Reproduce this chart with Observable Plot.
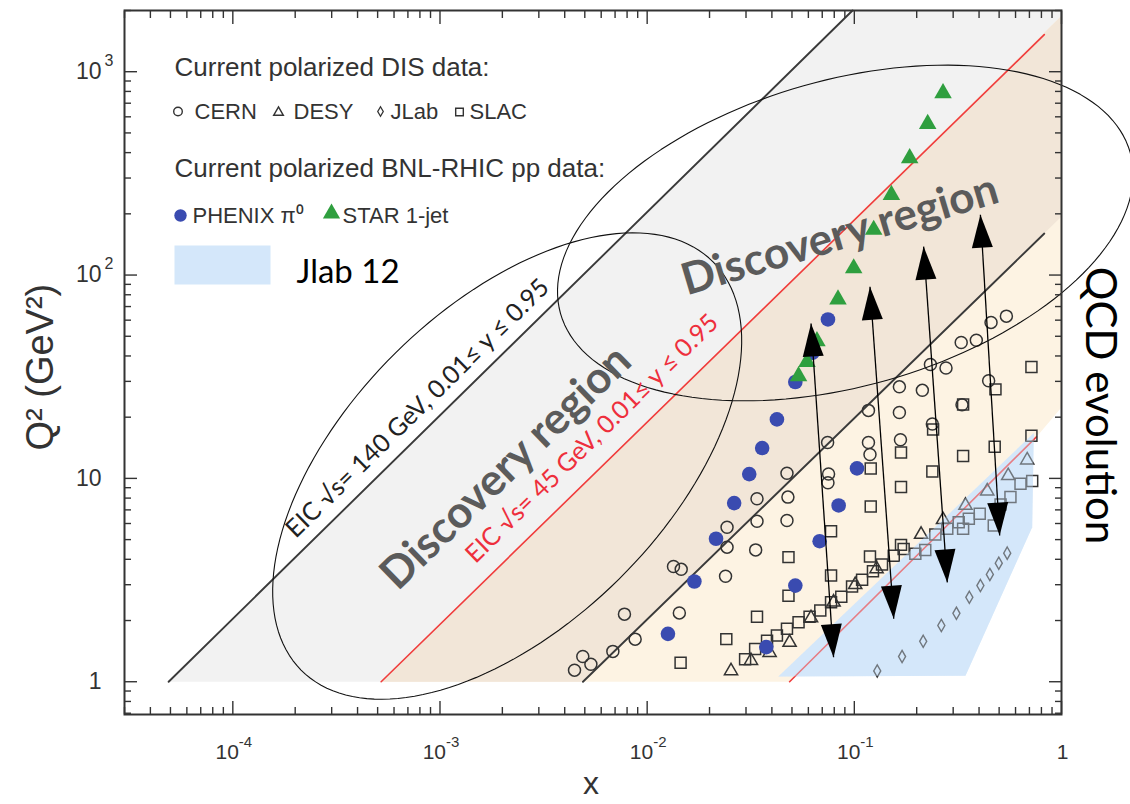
<!DOCTYPE html>
<html><head><meta charset="utf-8">
<script src="https://cdn.jsdelivr.net/npm/d3@7"></script>
<script src="https://cdn.jsdelivr.net/npm/@observablehq/plot@0.6"></script>
<style>body{margin:0;background:#fff}svg{display:block}</style>
</head><body><div id="chart"></div>
<script>
// ---------------- data ----------------
const cernX = [0.00446,0.00489,0.00535,0.00683,0.00875,0.00777,0.0134,0.0146,0.0143,0.0239,0.0243,0.0243,0.0339,0.0339,0.0334,0.0473,0.0478,0.0473,0.542,0.457,0.388,0.328,0.277,0.233,0.445,0.213,0.165,0.165,0.117,0.331,0.238,0.167,0.117,0.119,0.0743,0.0751,0.0746];
const cernQ2 = [1.14,1.33,1.22,1.41,1.62,2.15,3.69,3.57,2.18,3.30,4.59,5.75,7.94,6.16,4.45,10.6,8.09,6.21,62.8,58.5,47.8,46.6,34.9,36.3,30.2,27.1,28.2,21.1,21.6,23.0,18.5,15.5,15.0,13.1,15.0,10.5,9.52];
const desyX = [0.0254,0.0317,0.0390,0.0487,0.0618,0.0794,0.101,0.128,0.210,0.268,0.344,0.438,0.553,0.683];
const desyQ2 = [1.13,1.27,1.39,1.56,2.06,2.46,3.00,3.59,5.30,6.26,7.36,8.66,10.3,12.3];
const jlabX = [0.129,0.170,0.215,0.263,0.311,0.359,0.406,0.451,0.498,0.547];
const jlabQ2 = [1.13,1.33,1.58,1.89,2.17,2.60,2.97,3.37,3.83,4.29];
const slacX = [0.0145,0.0241,0.0339,0.0481,0.0481,0.0297,0.0332,0.0379,0.0423,0.0473,0.0538,0.0608,0.0685,0.0772,0.0865,0.0975,0.109,0.123,0.136,0.155,0.173,0.197,0.220,0.246,0.281,0.319,0.335,0.357,0.403,0.471,0.508,0.567,0.634,0.722,0.716,0.480,0.335,0.240,0.168,0.335,0.476,0.716,0.238,0.120,0.168,0.120,0.0772,0.119,0.168,0.0772];
const slacQ2 = [1.24,1.62,2.09,2.65,4.10,1.29,1.45,1.59,1.69,1.82,1.96,2.09,2.24,2.46,2.62,2.94,3.17,3.49,3.77,4.17,4.50,4.26,4.45,5.30,5.65,6.09,5.65,6.33,6.70,5.87,7.45,8.09,9.42,9.70,35.3,27.4,23.1,17.4,13.4,12.9,14.3,16.2,10.8,11.2,9.06,7.28,5.50,4.13,4.71,3.33];
const phenixX = [0.0126,0.0169,0.0215,0.0263,0.0311,0.0359,0.0423,0.0519,0.0627,0.0746,0.0376,0.0519,0.0680,0.0840,0.103];
const phenixQ2 = [1.72,3.11,5.05,7.56,10.5,14.1,19.5,29.8,41.5,60.5,1.48,2.97,4.91,7.36,11.2];
const starX = [0.0538,0.0591,0.0660,0.0834,0.0993,0.124,0.151,0.185,0.226,0.268];
const starQ2 = [31.8,37.4,47.3,75.9,108,167,248,376,554,785];

// EIC kinematic lines (start / end points)
const eicLineX1 = [4.9e-5, 5.2e-4, 0.0049, 0.0487];
const eicLineQ1 = [1, 1, 1, 1];
const eicLineX2 = [0.098, 0.826, 0.826, 0.757];
const eicLineQ2 = [2000, 1521, 160, 16.0];
const eicLineIsRed = [false, true, false, true];

// shaded regions (polygon vertices)
const eic140RegionX = [4.9e-5, 0.098, 1.1, 1.1, 0.0049];
const eic140RegionQ2 = [1, 2000, 2000, 213, 1];
const eic45RegionX = [5.2e-4, 1.1, 1.1, 0.757, 0.0487];
const eic45RegionQ2 = [1, 2070, 25, 16.0, 1];
const overlapRegionX = [5.2e-4, 1.1, 1.1, 0.0049];
const overlapRegionQ2 = [1, 2070, 213, 1];
const jlab12RegionX = [0.043, 0.344, 0.722, 0.735];
const jlab12RegionQ2 = [1.06, 1.07, 5.75, 16.7];

// QCD evolution arrows
const arrowBottomX = [0.0794, 0.155, 0.281, 0.503];
const arrowBottomQ2 = [1.32, 2.04, 3.08, 5.24];
const arrowTopX = [0.0618, 0.119, 0.216, 0.406];
const arrowTopQ2 = [57.8, 87.6, 138, 198];

// "discovery region" ellipses: centre (data), semi-axes (px), tilt (deg)
const ellipseCX = [0.00211, 0.0905];
const ellipseCQ2 = [11.5, 161];
const ellipseA = [290, 296];
const ellipseB = [159, 153];
const ellipseTilt = [44.7, 15.8];

// axis ticks
const xMajor = [1e-4, 1e-3, 1e-2, 1e-1, 1];
const xTickBase = ["10", "10", "10", "10", "1"];
const xTickExp = ["-4", "-3", "-2", "-1", ""];
const yMajor = [1, 10, 100, 1000];
const yTickBase = ["1", "10", "10", "10"];
const yTickExp = ["", "", "2", "3"];

// text
const lineLabels = ["EIC \u221As= 140 GeV, 0.01\u2264 y \u2264 0.95", "EIC \u221As= 45 GeV, 0.01\u2264 y \u2264 0.95"];
const lineLabelX = [7.8e-4, 0.00542];
const lineLabelQ2 = [22.1, 15.7];
const discoveryX = [0.00208, 0.0852];
const discoveryQ2 = [11.3, 157];
const discoveryRotate = [-44, -16.6];
const legendHeaders = ["Current polarized DIS data:", "Current polarized BNL-RHIC pp data:"];
const disLabels = ["CERN", "DESY", "JLab", "SLAC"];
const rhicLabels = ["PHENIX \u03c0\u2070", "STAR 1-jet"];

// ---------------- layout ----------------
const W = 1130, H = 804, mL = 124, mR = 69, mT = 10, mB = 90;
const xDomain = [3e-5, 1], yDomain = [0.69, 2000];
const pxX = (W - mL - mR) / Math.log10(xDomain[1] / xDomain[0]);
const pxY = (H - mT - mB) / Math.log10(yDomain[1] / yDomain[0]);
const lineAngle = -Math.atan(pxY / pxX) * 180 / Math.PI;

const pts = (xs, qs) => xs.map((x, i) => ({x, q: qs[i]}));
const xMinor = [], yMinor = [];
for (let d = -5; d <= 0; d++) for (let m = 2; m <= 9; m++) { const v = m * 10 ** d; if (v >= xDomain[0] && v <= xDomain[1]) xMinor.push(v); }
for (let d = -1; d <= 3; d++) for (let m = 2; m <= 9; m++) { const v = m * 10 ** d; if (v >= yDomain[0] && v <= yDomain[1]) yMinor.push(v); }

const ellipsePts = [];
ellipseCX.forEach((cx, k) => {
  const th = ellipseTilt[k] * Math.PI / 180;
  for (let i = 0; i < 160; i++) {
    const t = 2 * Math.PI * i / 160;
    const ox = ellipseA[k] * Math.cos(t) * Math.cos(th) - ellipseB[k] * Math.sin(t) * Math.sin(th);
    const oy = ellipseA[k] * Math.cos(t) * Math.sin(th) + ellipseB[k] * Math.sin(t) * Math.cos(th);
    ellipsePts.push({id: k, x: cx * 10 ** (ox / pxX), q: ellipseCQ2[k] * 10 ** (oy / pxY)});
  }
});

function headSymbol(ux, uy, L = 33, Wd = 21) {
  return {draw(ctx) {
    const bx = -ux * L, by = -uy * L, px = -uy * Wd / 2, py = ux * Wd / 2;
    ctx.moveTo(0, 0); ctx.lineTo(bx + px, by + py); ctx.lineTo(bx - px, by - py); ctx.closePath();
  }};
}
const rectSymbol = {draw(ctx) { ctx.rect(-48, -19.5, 96, 39); }};

const XY = {x: "x", y: "q"};
const poly = {stroke: "none", curve: "linear-closed", clip: true};
const marks = [];
// regions
marks.push(Plot.line(pts(eic140RegionX, eic140RegionQ2), {...XY, ...poly, fill: "#f2f2f2"}));
marks.push(Plot.line(pts(eic45RegionX, eic45RegionQ2), {...XY, ...poly, fill: "#fdf3e3"}));
marks.push(Plot.line(pts(overlapRegionX, overlapRegionQ2), {...XY, ...poly, fill: "#f2e6d8"}));
marks.push(Plot.line(pts(jlab12RegionX, jlab12RegionQ2), {...XY, ...poly, fill: "#d4e7fa"}));
// EIC lines
eicLineX1.forEach((x1, i) => {
  marks.push(Plot.line(pts([x1, eicLineX2[i]], [eicLineQ1[i], eicLineQ2[i]]), {...XY, stroke: eicLineIsRed[i] ? "#f03c3c" : "#3a3a3a", strokeWidth: eicLineIsRed[i] ? 1.6 : 1.9}));
});
// data markers
const mk = "#333";
marks.push(Plot.dot(pts(slacX, slacQ2), {...XY, symbol: "square", r: 6.2, stroke: mk, strokeWidth: 1.5, fill: "none"}));
marks.push(Plot.dot(pts(cernX, cernQ2), {...XY, symbol: "circle", r: 6, stroke: mk, strokeWidth: 1.5, fill: "none"}));
marks.push(Plot.dot(pts(desyX, desyQ2), {...XY, symbol: "triangle", r: 4.9, stroke: mk, strokeWidth: 1.5, fill: "none"}));
marks.push(Plot.dot(pts(jlabX, jlabQ2), {...XY, symbol: "diamond", r: 3.7, stroke: mk, strokeWidth: 1.4, fill: "none"}));
marks.push(Plot.dot(pts(phenixX, phenixQ2), {...XY, symbol: "circle", r: 7.3, fill: "#3a4bb0", stroke: "none"}));
marks.push(Plot.dot(pts(starX, starQ2), {...XY, symbol: "triangle", r: 6.5, fill: "#2f9f3f", stroke: "none"}));
// Jlab 12 translucent overlay
marks.push(Plot.line(pts(jlab12RegionX, jlab12RegionQ2), {...XY, ...poly, fill: "#d4e7fa", fillOpacity: 0.38}));
// arrows
const arrows = arrowBottomX.map((x1, i) => ({x1, q1: arrowBottomQ2[i], x2: arrowTopX[i], q2: arrowTopQ2[i]}));
marks.push(Plot.link(arrows, {x1: "x1", y1: "q1", x2: "x2", y2: "q2", stroke: "#000", strokeWidth: 1.3}));
arrows.forEach(a => {
  const dx = Math.log10(a.x2 / a.x1) * pxX, dy = -Math.log10(a.q2 / a.q1) * pxY;
  const len = Math.hypot(dx, dy), ux = dx / len, uy = dy / len;
  marks.push(Plot.dot([{x: a.x2, q: a.q2}], {...XY, symbol: headSymbol(ux, uy), r: 10, fill: "#000", stroke: "none"}));
  marks.push(Plot.dot([{x: a.x1, q: a.q1}], {...XY, symbol: headSymbol(-ux, -uy), r: 10, fill: "#000", stroke: "none"}));
});
// ellipses
marks.push(Plot.line(ellipsePts, {...XY, z: "id", curve: "linear-closed", stroke: "#111", strokeWidth: 1.1, fill: "none"}));
// annotations
lineLabels.forEach((t, i) => {
  marks.push(Plot.text([t], {x: () => lineLabelX[i], y: () => lineLabelQ2[i], text: d => d, rotate: lineAngle, fontSize: 25, fontFamily: "Lato, sans-serif", fill: i === 0 ? "#222" : "#ee2f3c"}));
});
discoveryX.forEach((x, i) => {
  marks.push(Plot.text(["Discovery region"], {x: () => x, y: () => discoveryQ2[i], text: d => d, rotate: discoveryRotate[i], fontSize: 44, fontWeight: "bold", fontFamily: "Lato, sans-serif", fill: "#5b5b5b"}));
});
marks.push(Plot.text(["QCD evolution"], {text: d => d, frameAnchor: "right", textAnchor: "middle", lineAnchor: "middle", dx: 38, dy: 43, rotate: 90, fontSize: 42, fontFamily: "Lato, sans-serif", fill: "#000"}));

// legend (positioned in the frame's top-left corner)
const LF = "Liberation Sans, Arial, sans-serif", LC = "#333";
const ltext = (t, dx, dy, fs, opts = {}) => Plot.text([t], {text: d => d, frameAnchor: "top-left", dx, dy, textAnchor: "start", lineAnchor: "middle", fontSize: fs, fontFamily: LF, fill: LC, ...opts});
const ldot = (dx, dy, o) => Plot.dot([0], {frameAnchor: "top-left", dx, dy, ...o});
marks.push(ltext(legendHeaders[0], 50, 56.7, 26));
marks.push(ldot(53.5, 101, {symbol: "circle", r: 4.3, stroke: LC, strokeWidth: 1.4, fill: "none"}));
marks.push(ltext(disLabels[0], 70, 101, 22));
marks.push(ldot(154, 102, {symbol: "triangle", r: 3.6, stroke: LC, strokeWidth: 1.4, fill: "none"}));
marks.push(ltext(disLabels[1], 169, 101, 22));
marks.push(ldot(256, 101, {symbol: "diamond", r: 2.9, stroke: LC, strokeWidth: 1.3, fill: "none"}));
marks.push(ltext(disLabels[2], 266, 101, 22));
marks.push(ldot(335, 101.5, {symbol: "square", r: 4.3, stroke: LC, strokeWidth: 1.4, fill: "none"}));
marks.push(ltext(disLabels[3], 345, 101, 22));
marks.push(ltext(legendHeaders[1], 50, 158, 26));
marks.push(ldot(56, 205, {symbol: "circle", r: 6.2, fill: "#3a4bb0", stroke: "none"}));
marks.push(ltext(rhicLabels[0], 68, 205, 22));
marks.push(ldot(207, 203, {symbol: "triangle", r: 6.4, fill: "#2f9f3f", stroke: "none"}));
marks.push(ltext(rhicLabels[1], 218, 205, 22));
marks.push(ldot(98, 254.5, {symbol: rectSymbol, r: 10, fill: "#d4e7fa", stroke: "none"}));
marks.push(ltext("Jlab 12", 172, 261.7, 33, {fontFamily: "Lato, sans-serif", fill: "#000"}));

// frame, ticks, labels
marks.push(Plot.frame({stroke: "#333", strokeWidth: 2}));
const tk = {tickFormat: () => "", label: null, stroke: "#333", strokeWidth: 1.4};
for (const anchor of ["bottom", "top"]) {
  marks.push(Plot.axisX(xMajor, {anchor, tickSize: -13, ...tk}));
  marks.push(Plot.axisX(xMinor, {anchor, tickSize: -7, ...tk}));
}
for (const anchor of ["left", "right"]) {
  marks.push(Plot.axisY(yMajor, {anchor, tickSize: -13, ...tk}));
  marks.push(Plot.axisY(yMinor, {anchor, tickSize: -7, ...tk}));
}
const AF = "Liberation Sans, Arial, sans-serif", AC = "#333";
xMajor.forEach((v, i) => {
  const hasExp = xTickExp[i] !== "";
  marks.push(Plot.text([v], {x: d => d, text: () => xTickBase[i], frameAnchor: "bottom", lineAnchor: "middle", dy: 38, dx: hasExp ? 6 : 1, textAnchor: hasExp ? "end" : "middle", fontSize: 21, fontFamily: AF, fill: AC}));
  if (hasExp) marks.push(Plot.text([v], {x: d => d, text: () => xTickExp[i], frameAnchor: "bottom", lineAnchor: "middle", dy: 28, dx: 6, textAnchor: "start", fontSize: 15, fontFamily: AF, fill: AC}));
});
yMajor.forEach((v, i) => {
  marks.push(Plot.text([v], {y: d => d, text: () => yTickBase[i], frameAnchor: "left", lineAnchor: "middle", dx: -23, textAnchor: "end", fontSize: 23, fontFamily: AF, fill: AC}));
  if (yTickExp[i]) marks.push(Plot.text([v], {y: d => d, text: () => yTickExp[i], frameAnchor: "left", lineAnchor: "middle", dx: -20, dy: -11, textAnchor: "start", fontSize: 16, fontFamily: AF, fill: AC}));
});
marks.push(Plot.text(["x"], {text: d => d, frameAnchor: "bottom", textAnchor: "middle", lineAnchor: "middle", dx: -2, dy: 69, fontSize: 32, fontFamily: AF, fill: AC}));
marks.push(Plot.text(["Q\u00b2 (GeV\u00b2)"], {text: d => d, frameAnchor: "middle", textAnchor: "start", lineAnchor: "middle", dx: -552, dy: 88, rotate: -90, fontSize: 38, fontFamily: AF, fill: AC}));

const chart = Plot.plot({
  width: W, height: H,
  marginLeft: mL, marginRight: mR, marginTop: mT, marginBottom: mB,
  x: {type: "log", domain: xDomain, label: null},
  y: {type: "log", domain: yDomain, label: null},
  style: {fontFamily: AF, background: "#fff", overflow: "visible"},
  marks
});
document.getElementById("chart").appendChild(chart);
</script>
</body></html>
